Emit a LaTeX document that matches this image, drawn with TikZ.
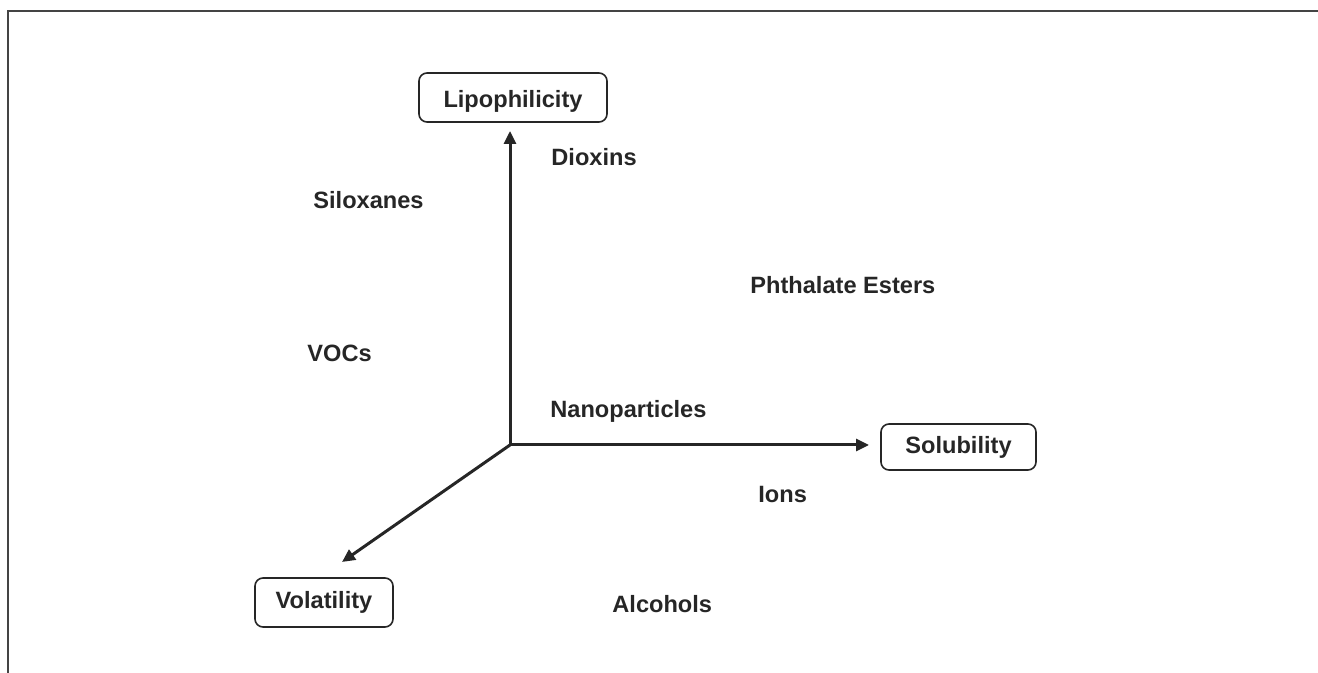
\documentclass[tikz,border=0pt]{standalone}
\usepackage{fontspec}
\setmainfont{Liberation Sans}
\usetikzlibrary{arrows.meta}
\definecolor{ink}{HTML}{262626}
\definecolor{framegray}{HTML}{444444}
\begin{document}
\begin{tikzpicture}[x=0.5pt,y=-0.5pt,
  axisbox/.style={draw=ink, line width=0.8pt, rounded corners=4pt,
    minimum height=24.5pt, inner sep=0pt, font=\fontsize{11.8}{14}\selectfont\bfseries, text=ink},
  chem/.style={anchor=west, inner sep=0pt, font=\fontsize{11.8}{14}\selectfont\bfseries, text=ink},
  axisline/.style={draw=ink, line width=1.5pt, -{Triangle[length=6.5pt,width=6pt]}}]
  \useasboundingbox (0,0) rectangle (1318,673);
  % open frame: top and left edges
  \draw[framegray, line width=1pt] (7.5,673) -- (7.5,11) -- (1318,11);

  % origin of the three axes
  \coordinate (o) at (510,445);

  % axis end boxes
  \node[axisbox, minimum width=94pt, text depth=0pt] (lip) at (513,97.5) {\raisebox{-1pt}{Lipophilicity}};
  \node[axisbox, minimum width=77.5pt, minimum height=23pt] (sol) at (958.5,447) {\raisebox{-1pt}{Solubility}};
  \node[axisbox, minimum width=69pt] (vol) at (324,602.5) {\raisebox{-1pt}{Volatility}};

  % axes
  \coordinate (lipend) at (510,131);
  \coordinate (solend) at (869,445);
  \coordinate (volend) at (342,562);
  \draw[axisline] (o) -- (lipend);
  \draw[axisline] (o) -- (solend);
  \draw[axisline, shorten <=-0.7pt] (o) -- (volend);

  % substance classes
  \node[chem] (diox) at (551,157) {Dioxins};
  \node[chem] (silo) at (313,200) {Siloxanes};
  \node[chem] (phth) at (750,285) {Phthalate Esters};
  \node[chem] (voc)  at (307,353) {VOCs};
  \node[chem] (nano) at (550,411) {Nanoparticles};
  \node[chem] (ions) at (758,494) {Ions};
  \node[chem] (alc)  at (612,604) {Alcohols};
\end{tikzpicture}
\end{document}
